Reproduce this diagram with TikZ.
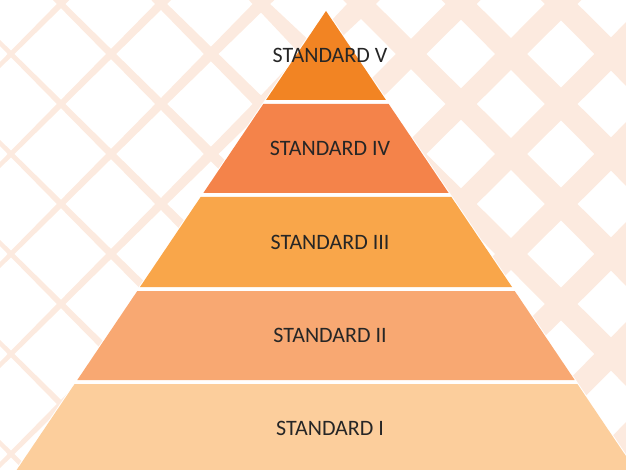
\documentclass[tikz,border=0pt]{standalone}
\usepackage{fontspec}
\setmainfont{Carlito}
\usetikzlibrary{positioning}
\definecolor{lattice}{HTML}{FCEADF}
\definecolor{stdV}{HTML}{F28423}
\definecolor{stdIV}{HTML}{F4834A}
\definecolor{stdIII}{HTML}{F9A64A}
\definecolor{stdII}{HTML}{F8A872}
\definecolor{stdI}{HTML}{FCCE9C}
\definecolor{txtgray}{HTML}{262626}
\tikzset{bar/.style={fill=lattice, draw=none}}
\tikzset{tier/.style={fill=#1, draw=none}}
\tikzset{tierlab/.style={text=txtgray, font=\fontsize{22}{26}\selectfont, inner sep=0pt}}
\begin{document}
\begin{tikzpicture}[x=1pt, y=-1pt]
	\useasboundingbox (0,0) rectangle (626,470);
	\clip (0,0) rectangle (626,470);

	% lattice in the back, bars get wider to the right
	\foreach \k in {0,...,11}{
		\pgfmathsetmacro\off{65+100*\k}
		\fill[bar] (-20,{\off+20-2.8}) -- (150,{\off-150-5.7}) -- (260,{\off-260-8.5}) -- (360,{\off-360-14.8}) -- (650,{\off-650-17})
			-- (650,{\off-650+17}) -- (360,{\off-360+14.8}) -- (260,{\off-260+8.5}) -- (150,{\off-150+5.7}) -- (-20,{\off+20+2.8}) -- cycle;
	}
	\foreach \k in {-6,...,6}{
		\pgfmathsetmacro\off{57+100*\k}
		\fill[bar] (-20,{-20-(\off)-2.8}) -- (150,{150-(\off)-5.7}) -- (260,{260-(\off)-8.5}) -- (360,{360-(\off)-14.8}) -- (650,{650-(\off)-17})
			-- (650,{650-(\off)+17}) -- (360,{360-(\off)+14.8}) -- (260,{260-(\off)+8.5}) -- (150,{150-(\off)+5.7}) -- (-20,{-20-(\off)+2.8}) -- cycle;
	}

	% pyramid
	\coordinate (apex) at (326,11);
	\fill[white, draw=white, line width=2pt] (apex) -- ({326+0.674*470},481) -- ({326-0.674*470},481) -- cycle;
	\foreach \yt/\yb/\col/\nm/\txt in {11/100/stdV/std5/STANDARD V, 104/193/stdIV/std4/STANDARD IV,
		197/287/stdIII/std3/STANDARD III, 291/380/stdII/std2/STANDARD II, 384/473/stdI/std1/STANDARD I}{
		\fill[tier=\col] ({326-0.674*(\yt-11)},\yt) -- ({326+0.674*(\yt-11)},\yt)
			-- ({326+0.674*(\yb-11)},\yb) -- ({326-0.674*(\yb-11)},\yb) -- cycle;
		\node[tierlab] (\nm) at (330,{(\yt+\yb)/2}) {\txt};
	}
\end{tikzpicture}
\end{document}
